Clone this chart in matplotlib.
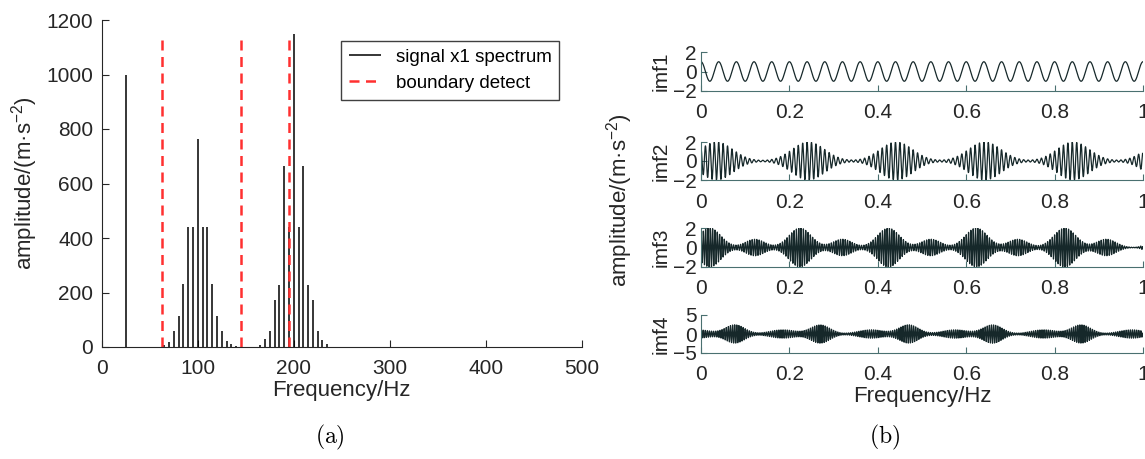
import matplotlib
matplotlib.use('Agg')
import matplotlib.pyplot as plt
import numpy as np

plt.rcParams['font.family'] = ['Liberation Sans', 'DejaVu Sans']
plt.rcParams['mathtext.default'] = 'regular'
plt.rcParams['mathtext.fontset'] = 'cm'

# spectrum lines of signal x1 (Hz, amplitude)
spec_freq = [25,
             65, 70, 75, 80, 85, 90, 95, 100, 105, 110, 115, 120, 125, 130, 135, 140,
             165, 170, 175, 180, 185, 190, 195, 200, 205, 210, 215, 220, 225, 230, 235]
spec_amp = [1000,
            6, 20, 60, 115, 230, 440, 440, 765, 440, 440, 230, 115, 60, 22, 10, 5,
            8, 28, 60, 173, 228, 663, 442, 1150, 442, 663, 228, 173, 60, 26, 10]
boundaries = [62.5, 145, 195]

# imf parameters
imf1_freq = 25
imf1_amp = 1.0
imf2_freq = 100
imf2_centers = [0.035, 0.243, 0.442, 0.642, 0.842, 1.043]
imf2_amps = [2.0, 2.0, 2.0, 2.0, 2.0, 2.0]
imf3_freq = 190
imf3_centers = [0.02, 0.224, 0.424, 0.623, 0.823, 0.122, 0.32, 0.52, 0.717, 0.917, 1.02]
imf3_amps = [2.0, 2.0, 2.0, 2.0, 2.0, 0.85, 0.85, 0.85, 0.85, 0.85, 0.6]
imf3_width = [0.025] * 5 + [0.022] * 5 + [0.015]
imf4_freq = 210
imf4_centers = [0.077, 0.27, 0.47, 0.66, 0.86, -0.008, 0.185, 0.385, 0.575, 0.775, 0.975]
imf4_amps = [2.4, 2.4, 2.4, 2.4, 2.4, 1.1, 1.1, 1.1, 1.1, 1.1, 1.1]
imf4_width = [0.022] * 5 + [0.03] * 6

t = np.linspace(0, 0.999, 4000)


def bursts(centers, amps, widths, freq):
    env = np.zeros_like(t)
    for c, a, w in zip(centers, amps, widths):
        env += a * np.exp(-(t - c) ** 2 / (2 * w ** 2))
    return env * np.cos(2 * np.pi * freq * t)


imf1 = imf1_amp * np.cos(2 * np.pi * imf1_freq * t)
imf2 = bursts(imf2_centers, imf2_amps, [0.037] * len(imf2_centers), imf2_freq)
imf3 = bursts(imf3_centers, imf3_amps, imf3_width, imf3_freq)
imf4 = bursts(imf4_centers, imf4_amps, imf4_width, imf4_freq)

W, H = 1145, 459
fig = plt.figure(figsize=(W / 100, H / 100), dpi=100)

# ---- (a) spectrum
ax = fig.add_axes([101.7 / W, 1 - 347 / H, 480 / W, 327 / H])
ax.vlines(spec_freq, 0, spec_amp, color='black', lw=1.1, label='signal x1 spectrum')
ax.vlines(boundaries, 0, max(spec_amp), color='#ff3030', lw=1.8,
          linestyles=(0, (4, 2.6)), label='boundary detect')
ax.set_xlim(0, 500)
ax.set_ylim(0, 1200)
ax.set_xticks(range(0, 501, 100))
ax.set_yticks(range(0, 1201, 200))
for s in ['top', 'right']:
    ax.spines[s].set_visible(False)
for s in ['left', 'bottom']:
    ax.spines[s].set_color('#262626')
ax.tick_params(direction='in', labelsize=15, colors='#262626', length=5)
ax.tick_params(axis='x', pad=9)
ax.tick_params(axis='y', pad=6)
ax.set_xlabel('Frequency/Hz', fontsize=16, color='#262626', labelpad=1)
ax.set_ylabel('amplitude/(m·s$^{-2}$)', fontsize=16, color='#262626', labelpad=5)
leg = ax.legend(loc='upper right', bbox_to_anchor=(0.953, 0.936), borderaxespad=0,
                fontsize=13.5, fancybox=False, handlelength=1.7, framealpha=1)
leg.get_frame().set_edgecolor('#404040')
leg.get_frame().set_linewidth(1.0)

# ---- (b) imfs
rows = [(52, 91), (142, 180), (228, 267), (315, 353)]
data = [imf1, imf2, imf3, imf4]
names = ['imf1', 'imf2', 'imf3', 'imf4']
lims = [2, 2, 2, 5]
axes_b = []
for (top, bot), y, name, lim in zip(rows, data, names, lims):
    a = fig.add_axes([701 / W, 1 - bot / H, 442 / W, (bot - top) / H])
    a.plot(t, y, color='#16282a', lw=0.9)
    a.set_xlim(0, 1)
    a.set_ylim(-lim, lim)
    a.set_yticks([-lim, 0, lim])
    a.set_xticks([0, 0.2, 0.4, 0.6, 0.8, 1])
    a.set_xticklabels(['0', '0.2', '0.4', '0.6', '0.8', '1'])
    for s in ['top', 'right']:
        a.spines[s].set_visible(False)
    for s in ['left', 'bottom']:
        a.spines[s].set_color('#4a7070')
    a.tick_params(direction='in', labelsize=15, colors='#262626', length=4)
    a.tick_params(axis='y', pad=3, color='#4a7070')
    a.tick_params(axis='x', pad=9, color='#4a7070')
    a.set_ylabel(name, fontsize=15, color='#262626', labelpad=2)
    axes_b.append(a)

axes_b[-1].set_xlabel('Frequency/Hz', fontsize=16, color='#262626', labelpad=1)
fig.text(620 / W, 1 - 200 / H, 'amplitude/(m·s$^{-2}$)', fontsize=16, color='#262626',
         rotation=90, ha='center', va='center')

# captions
fig.text(330 / W, 1 - 437 / H, r'$\mathrm{(a)}$', fontsize=17,
         ha='center', va='center')
fig.text(885 / W, 1 - 437 / H, r'$\mathrm{(b)}$', fontsize=17,
         ha='center', va='center')

fig.savefig('out.png', dpi=100)
